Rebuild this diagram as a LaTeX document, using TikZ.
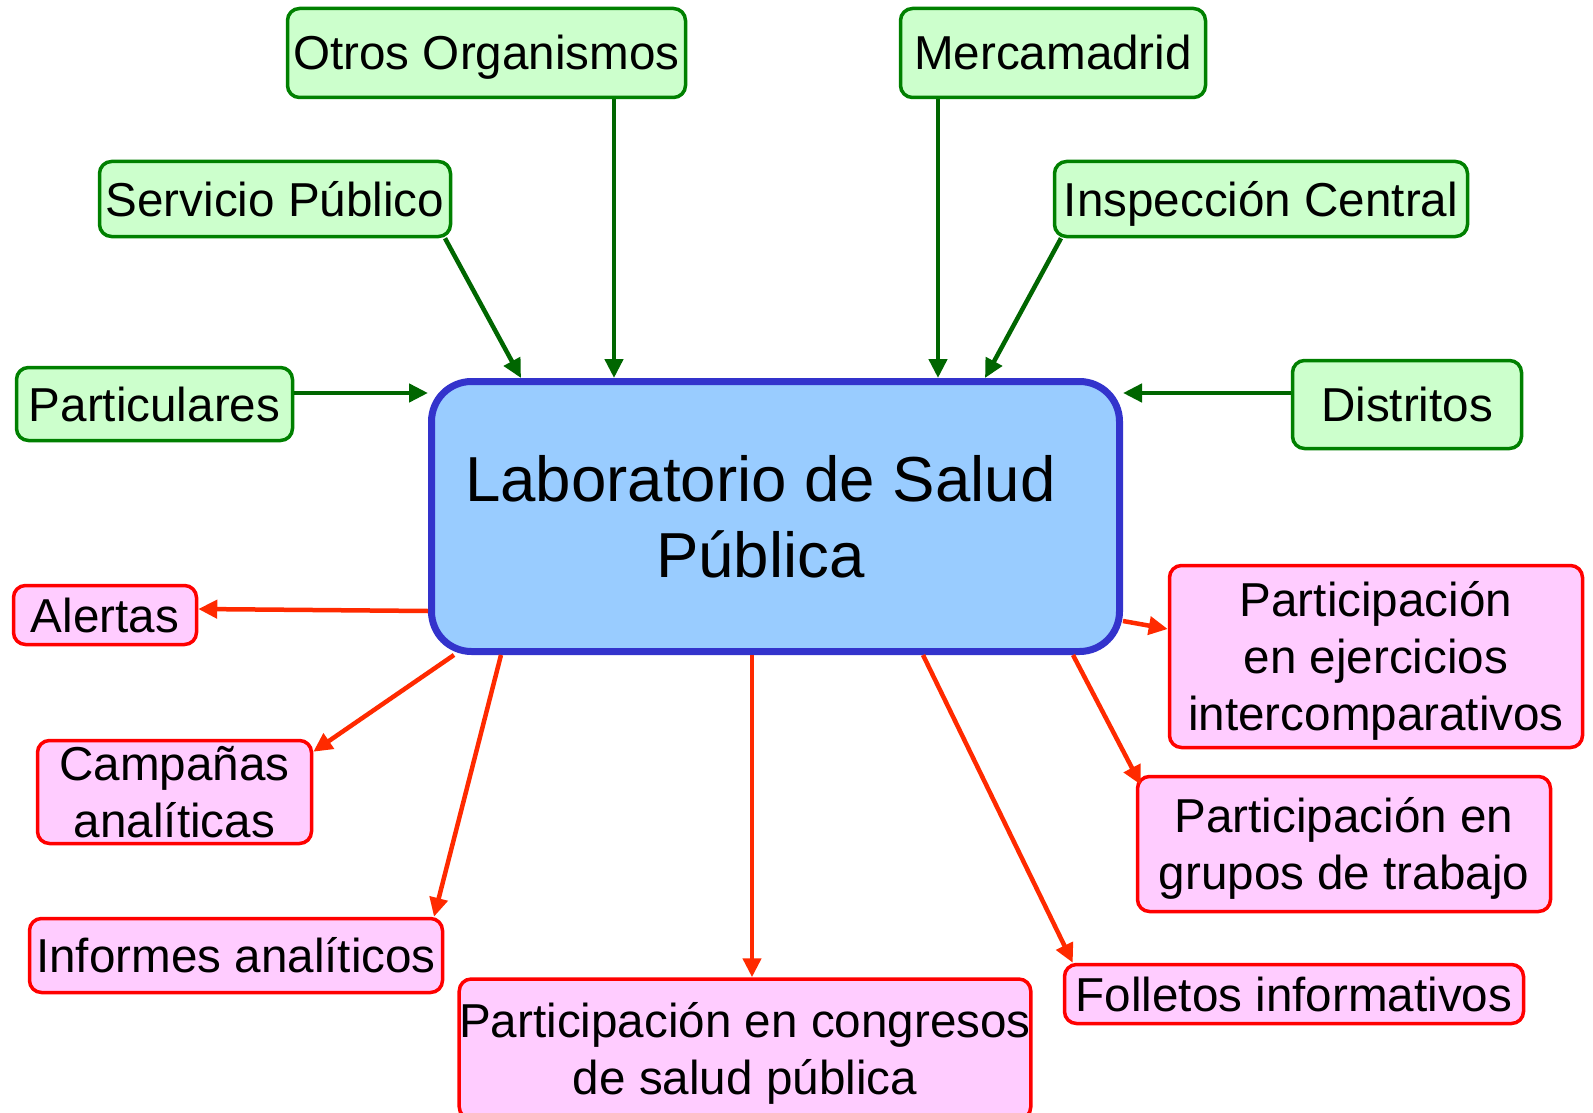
\documentclass[tikz,border=0pt]{standalone}
\usepackage{fontspec}
\setmainfont{Liberation Sans}
\usetikzlibrary{arrows.meta}
\definecolor{entradafondo}{HTML}{CCFFCC}
\definecolor{entradaborde}{HTML}{008000}
\definecolor{entradaflecha}{HTML}{006600}
\definecolor{salidafondo}{HTML}{FFCCFF}
\definecolor{salidaborde}{HTML}{FF0000}
\definecolor{salidaflecha}{HTML}{FF2A00}
\definecolor{labfondo}{HTML}{99CCFF}
\definecolor{labborde}{HTML}{3333CC}

\begin{document}
\begin{tikzpicture}[x=1pt,y=-1pt, align=center,
  every node/.style={inner sep=0pt, text height=34pt, text depth=0pt,
    font=\fontsize{47.6}{57}\selectfont},
  entrada/.style={draw=entradaborde, fill=entradafondo, line width=3.5pt, rounded corners=12pt},
  salida/.style={draw=salidaborde, fill=salidafondo, line width=3.5pt, rounded corners=12pt},
  lab/.style={draw=labborde, fill=labfondo, line width=7pt, rounded corners=40pt,
    text height=122pt, font=\fontsize{63.6}{76}\selectfont},
  hacia/.style={draw=entradaflecha, line width=4.5pt, -{Triangle[length=19pt,width=18pt]}},
  desde/.style={draw=salidaflecha, line width=4.5pt, -{Triangle[length=19pt,width=18pt]}}]
  \useasboundingbox (0,0) rectangle (1593,1113);

  \node[lab, minimum width=688pt, minimum height=270pt] (lab) at (775.5,516.5)
    {Laboratorio de Salud\hspace*{30pt}\\P\'ublica\hspace*{30pt}};

  % quien envia muestras
  \node[entrada, minimum width=398pt, minimum height=89pt] (otros)      at (486.5,53)  {Otros Organismos};
  \node[entrada, minimum width=305pt, minimum height=89pt] (merca)      at (1053,53)   {Mercamadrid};
  \node[entrada, minimum width=351pt, minimum height=75pt] (servicio)   at (275,199)   {Servicio P\'ublico};
  \node[entrada, minimum width=413pt, minimum height=75pt] (inspeccion) at (1261,199)  {Inspecci\'on Central};
  \node[entrada, minimum width=276pt, minimum height=73pt] (particular) at (154.5,404) {Particulares};
  \node[entrada, minimum width=229pt, minimum height=88pt] (distritos)  at (1407,404.5) {Distritos};

  % lo que sale del laboratorio
  \node[salida, minimum width=183pt, minimum height=59pt]  (alertas)    at (105,615)    {Alertas};
  \node[salida, minimum width=274pt, minimum height=103pt, text height=91pt] (campanas)  at (174.5,792) {Campa\~nas\\anal\'iticas};
  \node[salida, minimum width=413pt, minimum height=74pt]  (informes)   at (236,955.5)  {Informes anal\'iticos};
  \node[salida, minimum width=567pt, minimum height=140pt, text height=91pt] (congresos) at (745,1049) {Participaci\'on en congresos\\de salud p\'ublica};
  \node[salida, minimum width=459pt, minimum height=59pt]  (folletos)   at (1294,994)   {Folletos informativos};
  \node[salida, minimum width=413pt, minimum height=135pt, text height=91pt] (grupos)    at (1344,844) {Participaci\'on en\\grupos de trabajo};
  \node[salida, minimum width=413pt, minimum height=182pt, text height=148pt] (ejercicios) at (1376,656.5) {Participaci\'on\\en ejercicios\\intercomparativos};

  \draw[hacia] ([xshift=127.5pt]otros.south)     -- ([xshift=-161.5pt]lab.north);
  \draw[hacia] ([xshift=170pt]servicio.south)    -- ([xshift=-254.5pt]lab.north);
  \draw[hacia] ([xshift=-115pt]merca.south)      -- ([xshift=162.5pt]lab.north);
  \draw[hacia] ([xshift=-200pt]inspeccion.south) -- ([xshift=209.5pt]lab.north);
  \draw[hacia] ([yshift=11pt]particular.east)    -- ([yshift=123.5pt]lab.west);
  \draw[hacia] ([yshift=11.5pt]distritos.west)   -- ([yshift=123.5pt]lab.east);

  \draw[desde] ([yshift=-94.5pt]lab.west)        -- ([yshift=6pt]alertas.east);
  \draw[desde] ([xshift=26pt]lab.south west)     -- ([yshift=-13pt]campanas.north east);
  \draw[desde] ([xshift=-274.5pt]lab.south)      -- ([xshift=198pt]informes.north);
  \draw[desde] ([xshift=-23.5pt]lab.south)       -- ([xshift=7pt]congresos.north);
  \draw[desde] ([xshift=147.5pt]lab.south)       -- ([xshift=10pt]folletos.north west);
  \draw[desde] ([xshift=297.5pt]lab.south)       -- ([xshift=5pt,yshift=-10pt]grupos.north west);
  \draw[desde] ([yshift=-104.5pt]lab.east)       -- ([yshift=27.5pt]ejercicios.west);
\end{tikzpicture}
\end{document}
